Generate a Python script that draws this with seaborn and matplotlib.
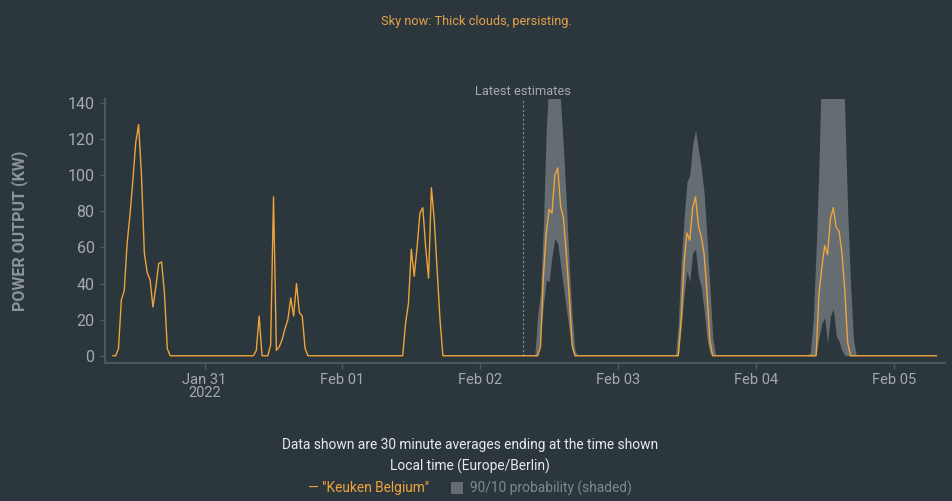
import numpy as np
import pandas as pd
import matplotlib
matplotlib.use("Agg")
import matplotlib.pyplot as plt
import matplotlib.dates as mdates
from matplotlib.patches import Rectangle
from matplotlib.transforms import blended_transform_factory
import seaborn as sns

# ---------------- data (30-minute averages, kW) ----------------
series_start = "2022-01-30 08:00"
series_end = "2022-02-05 07:30"
latest_estimate = "2022-02-02 07:30"

jan30_start = "2022-01-30 08:00"
jan30_kw = [0, 0, 4, 31, 36, 62, 78, 97, 118, 128, 100, 57, 46, 42, 27, 38, 51, 52, 35, 4, 0]

jan31_start = "2022-01-31 08:30"
jan31_kw = [0, 3, 22, 0, 0, 0, 6, 88, 3, 5, 9, 15, 20, 32, 22, 40, 24, 22, 4, 0]

feb01_start = "2022-02-01 10:30"
feb01_kw = [0, 18, 29, 59, 44, 60, 79, 82, 60, 43, 93, 75, 47, 20, 0]

feb02_start = "2022-02-02 09:30"
feb02_kw = [0, 0, 5, 44, 68, 81, 79, 100, 104, 83, 76, 56, 33, 6, 0, 0]
feb02_p10 = [0, 0, 10, 28, 42, 41, 55, 65, 62, 50, 38, 26, 14, 3, 0, 0]
feb02_p90 = [0, 22, 35, 72, 125, 155, 165, 165, 165, 140, 115, 85, 50, 22, 3, 0]

feb03_start = "2022-02-03 10:00"
feb03_kw = [0, 0, 20, 51, 68, 64, 82, 88, 72, 66, 56, 35, 8, 0, 0]
feb03_p10 = [0, 0, 15, 33, 47, 41, 57, 59, 44, 38, 25, 9, 1, 0, 0]
feb03_p90 = [0, 18, 52, 76, 96, 100, 117, 125, 114, 104, 90, 65, 38, 10, 0]

feb04_start = "2022-02-04 09:00"
feb04_kw = [0, 0, 0, 0, 34, 49, 61, 56, 76, 82, 71, 69, 57, 36, 7, 0, 0, 0]
feb04_p10 = [0, 0, 0, 0, 10, 18, 21, 7, 22, 26, 11, 8, 3, 0, 0, 0, 0, 0]
feb04_p90 = [0, 2, 20, 58, 105, 170, 180, 180, 180, 180, 180, 180, 180, 135, 80, 40, 9, 0]

tick_dates = ["2022-01-31", "2022-02-01", "2022-02-02", "2022-02-03", "2022-02-04", "2022-02-05"]
tick_labels = ["Jan 31\n2022", "Feb 01", "Feb 02", "Feb 03", "Feb 04", "Feb 05"]
y_ticks = [0, 20, 40, 60, 80, 100, 120, 140]

# ---------------- assemble table ----------------
times = pd.date_range(series_start, series_end, freq="30min")
df = pd.DataFrame({"time": times, "kw": 0.0, "p10": np.nan, "p90": np.nan})
fc = df["time"] >= pd.Timestamp(latest_estimate)
df.loc[fc, "p10"] = 0.0
df.loc[fc, "p90"] = 0.0


def place(col, start, vals):
    i0 = df.index[df["time"] == pd.Timestamp(start)][0]
    df.loc[i0:i0 + len(vals) - 1, col] = vals


place("kw", jan30_start, jan30_kw)
place("kw", jan31_start, jan31_kw)
place("kw", feb01_start, feb01_kw)
for st, kw, lo, hi in [(feb02_start, feb02_kw, feb02_p10, feb02_p90),
                       (feb03_start, feb03_kw, feb03_p10, feb03_p90),
                       (feb04_start, feb04_kw, feb04_p10, feb04_p90)]:
    place("kw", st, kw)
    place("p10", st, lo)
    place("p90", st, hi)

# ---------------- style ----------------
bg = "#2c363d"
orange = "#eea43a"
band = "#656d72"
spine = "#4f585e"
tick_txt = "#a3abb0"

sns.set_style("dark", {"axes.facecolor": bg, "figure.facecolor": bg})
plt.rcParams["font.family"] = ["Roboto", "DejaVu Sans"]

fig = plt.figure(figsize=(9.52, 5.01), dpi=100)
fig.patch.set_facecolor(bg)
ax = fig.add_axes([105 / 952, 138 / 501, 840 / 952, 263.7 / 501])
ax.set_facecolor(bg)

ax.fill_between(df["time"], df["p10"], df["p90"], where=fc.values,
                color=band, lw=0, zorder=1)
sns.lineplot(data=df, x="time", y="kw", color=orange, lw=1.0, ax=ax, zorder=3)

lt = pd.Timestamp(latest_estimate)
ax.vlines(lt, 0, 142, colors="#8a9399", linestyles=(0, (2, 2)), lw=0.8, zorder=2)
trans = blended_transform_factory(ax.transData, ax.transAxes)
ax.text(lt, 1.004, "Latest estimates", transform=trans, ha="center", va="bottom",
        color=tick_txt, fontsize=9.3)

ax.set_xlim(pd.Timestamp("2022-01-30 06:39"), pd.Timestamp("2022-02-05 08:57"))
ax.set_ylim(-4, 142)
ax.set_yticks(y_ticks)
ax.set_xticks(pd.to_datetime(tick_dates))
ax.set_xticklabels(tick_labels)
ax.set_xlabel("")
ax.set_ylabel("")
ax.grid(False)

for s in ["top", "right"]:
    ax.spines[s].set_visible(False)
for s in ["left", "bottom"]:
    ax.spines[s].set_visible(True)
    ax.spines[s].set_color(spine)
    ax.spines[s].set_linewidth(1.5)

ax.tick_params(axis="y", colors=spine, labelcolor=tick_txt, labelsize=11.5,
               length=3.5, width=1, pad=4, left=True)
ax.tick_params(axis="x", colors=spine, labelcolor=tick_txt, labelsize=10.5,
               length=4, width=1, pad=3, bottom=True)
for lab in ax.get_xticklabels():
    lab.set_linespacing(0.95)

fig.text(20 / 952, 1 - 231 / 501, "POWER OUTPUT (KW)", rotation=90, ha="center",
         va="center", color="#8c959b", fontsize=11.5, fontweight="bold")

fig.text(476 / 952, 1 - 22 / 501, "Sky now: Thick clouds, persisting.", ha="center",
         va="center", color="#e3a24a", fontsize=9.2)

fig.text(470 / 952, 1 - 445 / 501, "Data shown are 30 minute averages ending at the time shown",
         ha="center", va="center", color="#e8eaeb", fontsize=9.9)
fig.text(470 / 952, 1 - 466 / 501, "Local time (Europe/Berlin)",
         ha="center", va="center", color="#e8eaeb", fontsize=9.9)
fig.text(308 / 952, 1 - 488 / 501, "\u2014 \"Keuken Belgium\"",
         ha="left", va="center", color=orange, fontsize=9.9)
fig.patches.append(Rectangle((451 / 952, 1 - 494 / 501), 12 / 952, 12 / 501,
                             transform=fig.transFigure, color=band, lw=0))
fig.text(470 / 952, 1 - 488 / 501, "90/10 probability (shaded)",
         ha="left", va="center", color="#7f888e", fontsize=9.9)

fig.savefig("out.png", dpi=100, facecolor=bg)
